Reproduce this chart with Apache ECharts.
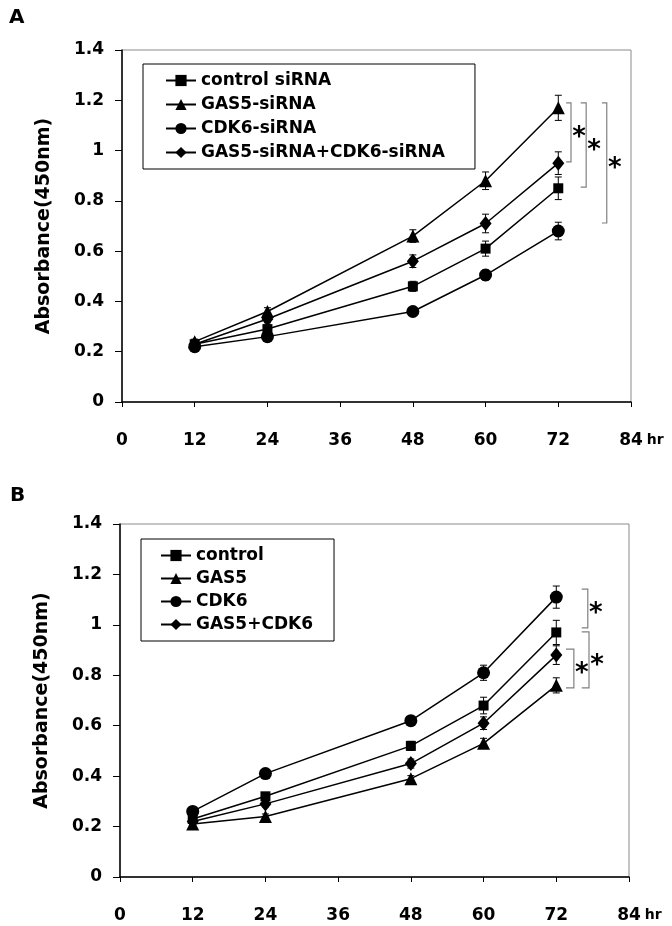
<!DOCTYPE html>
<html><head><meta charset="utf-8">
<script src="https://cdn.jsdelivr.net/npm/echarts@6/dist/echarts.min.js"></script>
<style>html,body{margin:0;padding:0;background:#fff}#c{width:672px;height:926px}</style>
</head><body><div id="c"></div>
<script>
// ---- shared ----
const hours = [12, 24, 48, 60, 72];
const xTickStep = 12;
const yTickStep = 0.2;

// ---- Panel A ----
const namesA = ['control siRNA', 'GAS5-siRNA', 'CDK6-siRNA', 'GAS5-siRNA+CDK6-siRNA'];
const controlSiRNA      = [0.23, 0.29, 0.46, 0.61, 0.85];
const controlSiRNAErr   = [0.01, 0.015, 0.02, 0.03, 0.045];
const gas5SiRNA         = [0.24, 0.36, 0.66, 0.88, 1.17];
const gas5SiRNAErr      = [0.01, 0.015, 0.025, 0.035, 0.05];
const cdk6SiRNA         = [0.22, 0.26, 0.36, 0.505, 0.68];
const cdk6SiRNAErr      = [0.01, 0.01, 0.012, 0.02, 0.035];
const gas5Cdk6SiRNA     = [0.23, 0.33, 0.56, 0.71, 0.95];
const gas5Cdk6SiRNAErr  = [0.01, 0.015, 0.025, 0.037, 0.045];
// significance brackets: [xLeft, xRight, yTop, yBottom]
const bracketsA = [[73.3, 74.1, 1.19, 0.955], [75.7, 76.6, 1.19, 0.855], [79.2, 80.0, 1.19, 0.712]];

// ---- Panel B ----
const namesB = ['control', 'GAS5', 'CDK6', 'GAS5+CDK6'];
const control      = [0.23, 0.32, 0.52, 0.68, 0.97];
const controlErr   = [0.01, 0.012, 0.018, 0.033, 0.048];
const gas5         = [0.21, 0.24, 0.39, 0.53, 0.76];
const gas5Err      = [0.01, 0.01, 0.012, 0.02, 0.03];
const cdk6         = [0.26, 0.41, 0.62, 0.81, 1.11];
const cdk6Err      = [0.01, 0.012, 0.015, 0.03, 0.044];
const gas5Cdk6     = [0.22, 0.29, 0.45, 0.61, 0.88];
const gas5Cdk6Err  = [0.01, 0.012, 0.018, 0.025, 0.037];
const bracketsB = [[76.2, 77.2, 1.142, 0.988], [76.2, 77.4, 0.972, 0.75], [73.6, 74.9, 0.904, 0.75]];

const FONT = 'DejaVu Sans';
const chart = echarts.init(document.getElementById('c'), null, {renderer: 'canvas'});

function pairs(ys) { return hours.map((h, i) => [h, ys[i]]); }
function errPairs(ys, es) { return hours.map((h, i) => [h, ys[i] - es[i], ys[i] + es[i]]); }

function errRender(params, api) {
  const x = api.value(0), lo = api.value(1), hi = api.value(2);
  const p1 = api.coord([x, hi]), p2 = api.coord([x, lo]);
  const w = 3.5, st = {stroke: '#000', lineWidth: 1};
  return {type: 'group', children: [
    {type: 'line', shape: {x1: p1[0], y1: p1[1], x2: p2[0], y2: p2[1]}, style: st},
    {type: 'line', shape: {x1: p1[0] - w, y1: p1[1], x2: p1[0] + w, y2: p1[1]}, style: st},
    {type: 'line', shape: {x1: p2[0] - w, y1: p2[1], x2: p2[0] + w, y2: p2[1]}, style: st}
  ]};
}
function bracketRender(params, api) {
  const xl = api.value(0), xr = api.value(1), yt = api.value(2), yb = api.value(3);
  const a = api.coord([xl, yt]), b = api.coord([xr, yt]), c = api.coord([xr, yb]), d = api.coord([xl, yb]);
  return {type: 'group', children: [
    {type: 'polyline', shape: {points: [a, b, c, d]}, style: {stroke: '#808080', lineWidth: 1.2, fill: null}},
    {type: 'text', x: b[0] + 8, y: (b[1] + c[1]) / 2 + 6,
     style: {text: '*', fontFamily: FONT, fontWeight: 'bold', fontSize: 26, fill: '#000', align: 'center', verticalAlign: 'middle'}}
  ]};
}

const symbols = [
  {symbol: 'rect', symbolSize: 10},
  {symbol: 'triangle', symbolSize: 13},
  {symbol: 'circle', symbolSize: 13},
  {symbol: 'diamond', symbolSize: [12, 15]}
];

function lineSeries(name, ys, idx, k) {
  return Object.assign({
    type: 'line', name: name, data: pairs(ys), xAxisIndex: idx, yAxisIndex: idx,
    lineStyle: {color: '#000', width: 1.5}, itemStyle: {color: '#000'},
    showSymbol: true, z: 3, emphasis: {disabled: true}
  }, symbols[k]);
}
function errSeries(ys, es, idx) {
  return {type: 'custom', data: errPairs(ys, es), xAxisIndex: idx, yAxisIndex: idx,
    encode: {x: 0, y: [1, 2]}, renderItem: errRender, z: 2, silent: true};
}
function bracketSeries(br, idx) {
  return {type: 'custom', data: br, xAxisIndex: idx, yAxisIndex: idx,
    encode: {x: [0, 1], y: [2, 3]}, renderItem: bracketRender, z: 2, silent: true, clip: false};
}

const labelStyle = {fontFamily: FONT, fontWeight: 'bold', fontSize: 17, color: '#000'};
function xAxis(idx) {
  return {type: 'value', gridIndex: idx, min: 0, max: 84, interval: xTickStep,
    axisLine: {lineStyle: {color: '#000', width: 1.5}},
    axisTick: {show: true, inside: false, length: 5, lineStyle: {color: '#000'}},
    axisLabel: Object.assign({margin: 30}, labelStyle),
    splitLine: {show: false},
    name: 'hr', nameLocation: 'end', nameGap: 15,
    nameTextStyle: {fontFamily: FONT, fontWeight: 'bold', fontSize: 14, color: '#000', verticalAlign: 'top', padding: [31, 0, 0, 0]}
  };
}
function yAxis(idx) {
  return {type: 'value', gridIndex: idx, min: 0, max: 1.4, interval: yTickStep,
    axisLine: {show: true, lineStyle: {color: '#000', width: 1.5}},
    axisTick: {show: true, inside: false, length: 7, lineStyle: {color: '#000'}},
    axisLabel: Object.assign({margin: 18}, labelStyle),
    splitLine: {show: false},
    name: 'Absorbance(450nm)', nameLocation: 'middle', nameGap: 68,
    nameTextStyle: {fontFamily: FONT, fontWeight: 'bold', fontSize: 19, color: '#000'}
  };
}
function legend(names, left, top, pad, gap) {
  return {data: names, orient: 'vertical', left: left, top: top, itemWidth: 30, itemHeight: 14, itemGap: gap,
    padding: pad, borderColor: '#000', borderWidth: 1, selectedMode: false,
    textStyle: {fontFamily: FONT, fontWeight: 'bold', fontSize: 17, color: '#000'}};
}

const option = {
  animation: false,
  backgroundColor: '#fff',
  title: [
    {text: 'A', left: 4, top: 3, textStyle: {fontFamily: FONT, fontWeight: 'bold', fontSize: 20, color: '#000'}},
    {text: 'B', left: 5, top: 481, textStyle: {fontFamily: FONT, fontWeight: 'bold', fontSize: 20, color: '#000'}}
  ],
  grid: [
    {left: 122, top: 50, width: 509, height: 352, show: true, borderColor: '#8a8a8a', borderWidth: 1},
    {left: 120, top: 524, width: 509, height: 353, show: true, borderColor: '#8a8a8a', borderWidth: 1}
  ],
  xAxis: [xAxis(0), xAxis(1)],
  yAxis: [yAxis(0), yAxis(1)],
  legend: [legend(namesA, 143, 64, [8, 30, 8, 22], 7), legend(namesB, 141, 539, [8, 21, 8, 19], 6)],
  series: [
    lineSeries(namesA[0], controlSiRNA, 0, 0),
    lineSeries(namesA[1], gas5SiRNA, 0, 1),
    lineSeries(namesA[2], cdk6SiRNA, 0, 2),
    lineSeries(namesA[3], gas5Cdk6SiRNA, 0, 3),
    errSeries(controlSiRNA, controlSiRNAErr, 0),
    errSeries(gas5SiRNA, gas5SiRNAErr, 0),
    errSeries(cdk6SiRNA, cdk6SiRNAErr, 0),
    errSeries(gas5Cdk6SiRNA, gas5Cdk6SiRNAErr, 0),
    bracketSeries(bracketsA, 0),
    lineSeries(namesB[0], control, 1, 0),
    lineSeries(namesB[1], gas5, 1, 1),
    lineSeries(namesB[2], cdk6, 1, 2),
    lineSeries(namesB[3], gas5Cdk6, 1, 3),
    errSeries(control, controlErr, 1),
    errSeries(gas5, gas5Err, 1),
    errSeries(cdk6, cdk6Err, 1),
    errSeries(gas5Cdk6, gas5Cdk6Err, 1),
    bracketSeries(bracketsB, 1)
  ]
};
chart.setOption(option);
</script></body></html>
